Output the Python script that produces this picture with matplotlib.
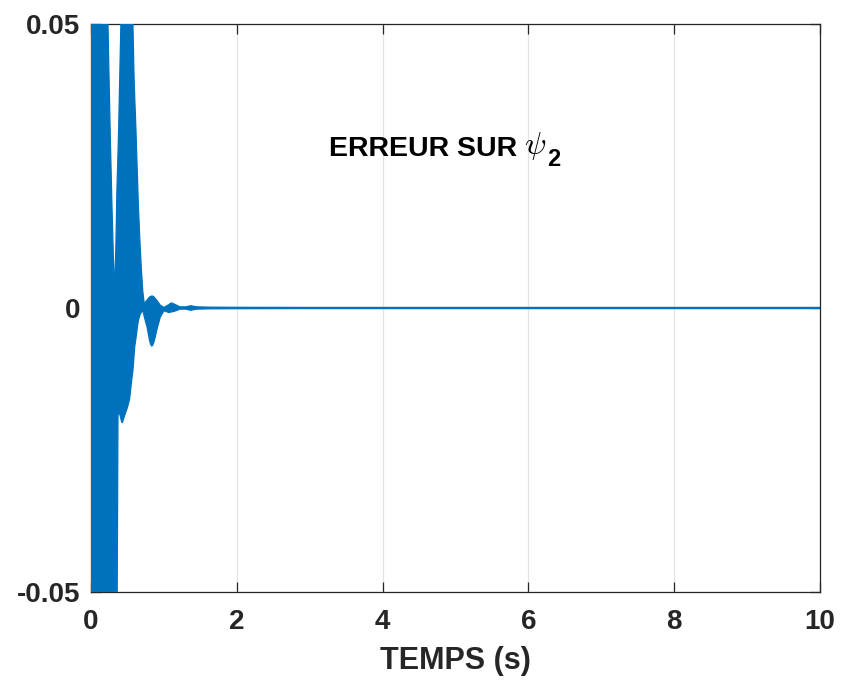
import numpy as np
import matplotlib
matplotlib.use("Agg")
import matplotlib.pyplot as plt

# envelope of the psi_2 error signal (values past +-0.05 are clipped)
t_env = [0.0, 0.22, 0.233, 0.242, 0.265, 0.288, 0.311, 0.32, 0.34, 0.356, 0.37, 0.38,
         0.40, 0.42, 0.43, 0.46, 0.50, 0.53, 0.56, 0.575, 0.59, 0.60, 0.615, 0.635, 0.64,
         0.65, 0.67, 0.68, 0.69, 0.71, 0.73, 0.77, 0.80, 0.815, 0.83, 0.845, 0.86, 0.88,
         0.90, 0.95, 1.00, 1.07, 1.10, 1.14, 1.22, 1.30, 1.37, 1.45, 1.60, 2.0, 3.0, 5.0, 10.0]
upper = [0.08, 0.07, 0.05, 0.044, 0.030, 0.0177, 0.007, 0.003, 0.010, 0.021, 0.027, 0.032,
         0.044, 0.056, 0.06, 0.06, 0.06, 0.06, 0.058, 0.05, 0.041, 0.037, 0.032, 0.024, 0.022,
         0.018, 0.012, 0.0095, 0.007, 0.003, 0.0008, 0.0014, 0.0019, 0.0020, 0.0021, 0.0021,
         0.0020, 0.0017, 0.0014, 0.0005, 0.0001, 0.0006, 0.0009, 0.0007, 0.0002, 0.0002,
         0.0004, 0.0002, 0.00015, 0.00012, 0.0001, 0.0001, 0.0001]
lower = [-0.08, -0.08, -0.08, -0.08, -0.08, -0.08, -0.08, -0.08, -0.07, -0.06, -0.019, -0.018,
         -0.019, -0.020, -0.0202, -0.019, -0.0175, -0.016, -0.0125, -0.011, -0.0085, -0.0068,
         -0.0055, -0.0035, -0.003, -0.0022, -0.0013, -0.001, -0.0008, -0.0004, -0.0015, -0.0034,
         -0.0055, -0.0063, -0.0067, -0.0066, -0.0061, -0.0052, -0.0040, -0.0016, -0.0005,
         -0.0008, -0.0007, -0.0006, -0.0002, -0.0002, -0.0004, -0.0002, -0.00015, -0.00012,
         -0.0001, -0.0001, -0.0001]

xticks = [0, 2, 4, 6, 8, 10]
yticks = [-0.05, 0, 0.05]
ytick_labels = ["-0.05", "0", "0.05"]

plt.rcParams['font.family'] = ['Liberation Sans', 'DejaVu Sans']
plt.rcParams['mathtext.fontset'] = 'cm'
blue = '#0072BD'
ink = '#262626'

fig = plt.figure(figsize=(8.41, 6.81), dpi=100)
ax = fig.add_axes([0.1082, 0.1307, 0.8668, 0.8341])
ax.fill_between(t_env, lower, upper, color=blue, lw=0.9, edgecolor=blue, zorder=3)
ax.set_xlim(0, 10); ax.set_ylim(-0.05, 0.05)
ax.set_xticks(xticks); ax.set_yticks(yticks)
ax.set_yticklabels(ytick_labels)
ax.grid(True, color='#e3e3e3', lw=0.9, zorder=0)
ax.tick_params(direction='in', length=7, width=0.9, color=ink, labelcolor=ink,
               labelsize=20, top=True, right=True)
ax.tick_params(axis='x', pad=12)
ax.tick_params(axis='y', pad=8)
for lab in ax.get_xticklabels() + ax.get_yticklabels():
    lab.set_fontweight('bold')
for s in ax.spines.values():
    s.set_color(ink); s.set_linewidth(0.9)
ax.set_xlabel('TEMPS (s)', fontsize=22, fontweight='bold', color=ink, labelpad=8)

# title-like annotation: bold words, TeX psi, bold subscript 2
t1 = ax.text(3.26, 0.0268, 'ERREUR SUR', fontsize=20.5, fontweight='bold',
             va='baseline', ha='left', color='black', zorder=5)
t2 = ax.annotate(r'$\psi$', xy=(1, 0), xycoords=t1, xytext=(5, 0), textcoords='offset points',
                 fontsize=23, va='bottom', ha='left', color='black', zorder=5)
ax.annotate('2', xy=(1, 0), xycoords=t2, xytext=(1, -7), textcoords='offset points',
            fontsize=17, fontweight='bold', va='bottom', ha='left', color='black', zorder=5)
fig.savefig("out.png", dpi=100)
